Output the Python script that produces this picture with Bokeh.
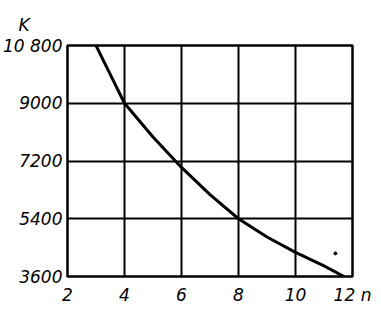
from bokeh.plotting import figure
from bokeh.models import Range1d, FixedTicker, Title
from bokeh.embed import file_html
from bokeh.resources import INLINE

# Data
n_vals = [3.0, 3.5, 4.0, 5.0, 6.0, 7.0, 8.0, 9.0, 10.0, 11.0, 11.7]
k_vals = [10800, 9900, 9000, 7950, 7000, 6150, 5400, 4830, 4350, 3930, 3600]

x_ticks = [2, 4, 6, 8, 10, 12]
x_tick_labels = ["2", "4", "6", "8", "10", "12 n"]
y_ticks = [3600, 5400, 7200, 9000, 10800]
y_tick_labels = ["3600", "5400", "7200", "9000", "10 800"]

speck_n = [11.4]
speck_k = [4320]

FONT = "DejaVu Sans"

p = figure(width=381, height=310, output_backend="svg", toolbar_location=None,
           x_range=Range1d(2, 12), y_range=Range1d(3600, 10800),
           min_border_left=64, min_border_right=29, min_border_top=45, min_border_bottom=34)
p.background_fill_color = "white"
p.border_fill_color = "white"
p.outline_line_color = "black"
p.outline_line_width = 2.5

p.xaxis.ticker = FixedTicker(ticks=x_ticks)
p.yaxis.ticker = FixedTicker(ticks=y_ticks)
p.xaxis.major_label_overrides = {t: s for t, s in zip(x_ticks, x_tick_labels)}
p.yaxis.major_label_overrides = {t: s for t, s in zip(y_ticks, y_tick_labels)}

for ax in (p.xaxis[0], p.yaxis[0]):
    ax.axis_line_color = None
    ax.major_tick_line_color = None
    ax.minor_tick_line_color = None
    ax.major_tick_in = 0
    ax.major_tick_out = 0
    ax.major_label_text_font = FONT
    ax.major_label_text_font_style = "italic"
    ax.major_label_text_font_size = "17px"
    ax.major_label_text_color = "black"
p.xaxis.major_label_standoff = 8
p.yaxis.major_label_standoff = 5

p.xgrid.grid_line_color = "black"
p.ygrid.grid_line_color = "black"
p.xgrid.grid_line_width = 2
p.ygrid.grid_line_width = 2
p.xgrid.grid_line_alpha = 1
p.ygrid.grid_line_alpha = 1

p.line(n_vals, k_vals, line_color="black", line_width=3)
p.scatter(speck_n, speck_k, size=3, color="black")

p.add_layout(Title(text="K", align="left", offset=-49, standoff=22,
                   text_font=FONT, text_font_style="italic", text_font_size="17px",
                   text_color="black"), "above")

open("out.html", "w").write(file_html(p, INLINE))
